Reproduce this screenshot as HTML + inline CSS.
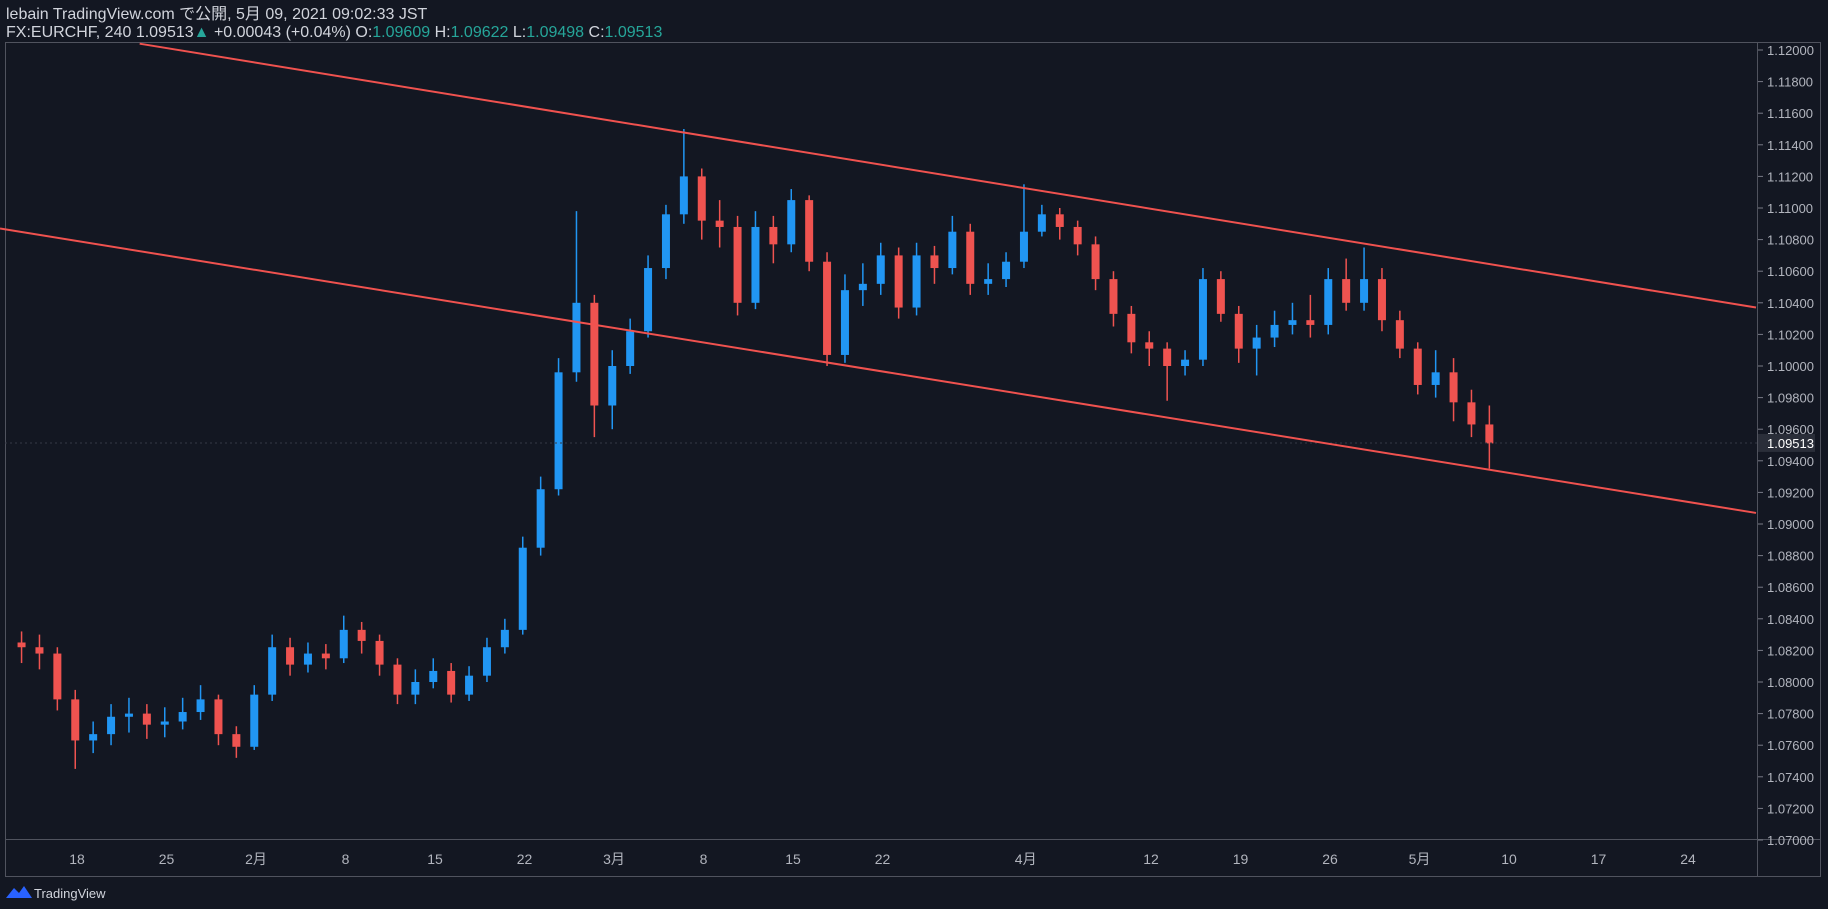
<!DOCTYPE html>
<html><head><meta charset="utf-8"><style>
body{margin:0;background:#131722;}
svg{display:block;font-family:"Liberation Sans","Noto Sans CJK JP",sans-serif;}
</style></head><body>
<svg id="c" width="1828" height="909">
<rect x="0" y="0" width="1828" height="909" fill="#131722"/>
<text x="6" y="19" fill="#d1d4dc" font-size="16">lebain TradingView.com で公開, 5月 09, 2021 09:02:33 JST</text>
<text x="6" y="37" fill="#d1d4dc" font-size="16">FX:EURCHF, 240 1.09513<tspan fill="#26a69a">▲</tspan> +0.00043 (+0.04%) O:<tspan fill="#26a69a">1.09609</tspan> H:<tspan fill="#26a69a">1.09622</tspan> L:<tspan fill="#26a69a">1.09498</tspan> C:<tspan fill="#26a69a">1.09513</tspan></text>
<rect x="5.5" y="42.5" width="1815" height="834" fill="none" stroke="#50535e"/>
<line x1="1757.5" y1="42" x2="1757.5" y2="877" stroke="#50535e"/>
<line x1="5" y1="839.5" x2="1821" y2="839.5" stroke="#50535e"/>
<g id="candles"></g>
<g id="yaxis"></g>
<g id="xaxis"></g>
<g id="lines"></g>
<g>
<path d="M6 898 L14 888 L19 893 L24 886 L32 898 Z" fill="#2962ff"/>
<text x="34" y="898" fill="#d1d4dc" font-size="13">TradingView</text>
</g>
</svg>
<script>
const closes=[1.0822,1.0818,1.0789,1.0763,1.0767,1.0778,1.0780,1.0773,1.0775,1.0781,1.0789,1.0767,1.0759,1.0792,1.0822,1.0811,1.0818,1.0815,1.0833,1.0826,1.0811,1.0792,1.0800,1.0807,1.0792,1.0804,1.0822,1.0833,1.0885,1.0922,1.0996,1.1040,1.0975,1.1000,1.1022,1.1062,1.1096,1.1120,1.1092,1.1088,1.1040,1.1088,1.1077,1.1105,1.1066,1.1007,1.1048,1.1052,1.1070,1.1037,1.1070,1.1062,1.1085,1.1052,1.1055,1.1066,1.1085,1.1096,1.1088,1.1077,1.1055,1.1033,1.1015,1.1011,1.1000,1.1004,1.1055,1.1033,1.1011,1.1018,1.1026,1.1029,1.1026,1.1055,1.1040,1.1055,1.1029,1.1011,1.0988,1.0996,1.0977,1.0963,1.0951];
const highs=[1.0832,1.0830,1.0822,1.0795,1.0775,1.0786,1.0790,1.0786,1.0784,1.0790,1.0798,1.0792,1.0772,1.0798,1.0830,1.0828,1.0825,1.0824,1.0842,1.0838,1.0830,1.0815,1.0808,1.0815,1.0812,1.0810,1.0828,1.0840,1.0892,1.0930,1.1005,1.1098,1.1045,1.1010,1.1030,1.1070,1.1102,1.1150,1.1125,1.1105,1.1095,1.1098,1.1095,1.1112,1.1108,1.1072,1.1058,1.1065,1.1078,1.1075,1.1078,1.1076,1.1095,1.1090,1.1065,1.1072,1.1115,1.1102,1.1100,1.1092,1.1082,1.1060,1.1038,1.1022,1.1015,1.1010,1.1062,1.1060,1.1038,1.1026,1.1035,1.1040,1.1045,1.1062,1.1068,1.1075,1.1062,1.1035,1.1015,1.1010,1.1005,1.0985,1.0975];
const lows=[1.0812,1.0808,1.0782,1.0745,1.0755,1.0760,1.0768,1.0764,1.0765,1.0770,1.0776,1.0760,1.0752,1.0757,1.0788,1.0804,1.0806,1.0808,1.0812,1.0818,1.0804,1.0786,1.0786,1.0796,1.0787,1.0788,1.0800,1.0818,1.0830,1.0880,1.0918,1.0990,1.0955,1.0960,1.0995,1.1018,1.1055,1.1090,1.1080,1.1075,1.1032,1.1036,1.1065,1.1072,1.1060,1.1000,1.1002,1.1038,1.1045,1.1030,1.1032,1.1052,1.1058,1.1045,1.1045,1.1050,1.1062,1.1082,1.1080,1.1070,1.1048,1.1025,1.1008,1.1000,1.0978,1.0994,1.1000,1.1028,1.1002,1.0994,1.1012,1.1020,1.1018,1.1020,1.1035,1.1035,1.1022,1.1005,1.0982,1.0980,1.0965,1.0955,1.0935];
const firstOpen=1.0825;
const priceTicks=[1.12,1.118,1.116,1.114,1.112,1.11,1.108,1.106,1.104,1.102,1.10,1.098,1.096,1.094,1.092,1.09,1.088,1.086,1.084,1.082,1.08,1.078,1.076,1.074,1.072,1.07];
const dateLabels=["18","25","2月","8","15","22","3月","8","15","22","4月","12","19","26","5月","10","17","24"];
const dateIdx=[0,5,10,15,20,25,30,35,40,45,53,60,65,70,75,80,85,90];
const lastPrice=1.09513;
const channelUpper=[[3.5,1.1204],[93.8,1.1037]];
const channelLower=[[-4.3,1.1087],[93.8,1.0907]];

const NS="http://www.w3.org/2000/svg";
const y=p=>50+(1.12-p)/0.001*15.8;
const x=d=>77+d*17.9;
function mk(tag,attrs,parent){const e=document.createElementNS(NS,tag);for(const k in attrs)e.setAttribute(k,attrs[k]);parent.appendChild(e);return e;}
const cg=document.getElementById('candles');
closes.forEach((c,i)=>{
  const o=i===0?firstOpen:closes[i-1];
  const up=c>=o;const col=up?'#2196f3':'#ef5350';
  const cx=x(i-3.6)+9;
  const w=mk('line',{x1:cx,x2:cx,y1:y(highs[i]),y2:y(lows[i]),stroke:col,'stroke-width':1.5},cg);
  
  
  const t=Math.min(y(o),y(c));const h=Math.max(1.5,Math.abs(y(o)-y(c)));
  const b=mk('rect',{x:cx-4,y:t,width:8,height:h,fill:col},cg);
  
  
});
const yg=document.getElementById('yaxis');
priceTicks.forEach(p=>{
  const l=mk('line',{x1:1758,x2:1763,y1:y(p),y2:y(p),stroke:'#787b86'},yg);
  
  
  const t=mk('text',{x:1767,y:y(p)+5,fill:'#b2b5be','font-size':13},yg);
  t.textContent=p.toFixed(5);
  
  
});
const dl=mk('line',{x1:5,x2:1757,y1:y(lastPrice),y2:y(lastPrice),stroke:'#363a45','stroke-dasharray':'2 3'},yg);


const lb=mk('rect',{x:1758,y:y(lastPrice)-9,width:57,height:18,fill:'#2a2e39'},yg);


const lt=mk('text',{x:1767,y:y(lastPrice)+5,fill:'#ffffff','font-size':13},yg);
lt.textContent=lastPrice.toFixed(5);


const xg=document.getElementById('xaxis');
dateLabels.forEach((s,i)=>{
  const t=mk('text',{x:x(dateIdx[i]),y:864,fill:'#b2b5be','font-size':14,'text-anchor':'middle'},xg);
  t.textContent=s;
  
  
});
const lg=document.getElementById('lines');
[channelUpper,channelLower].forEach((ln,k)=>{
  const e=mk('line',{x1:x(ln[0][0]),y1:y(ln[0][1]),x2:x(ln[1][0]),y2:y(ln[1][1]),stroke:'#f0524f','stroke-width':2},lg);
  
  
});
</script>
</body></html>
